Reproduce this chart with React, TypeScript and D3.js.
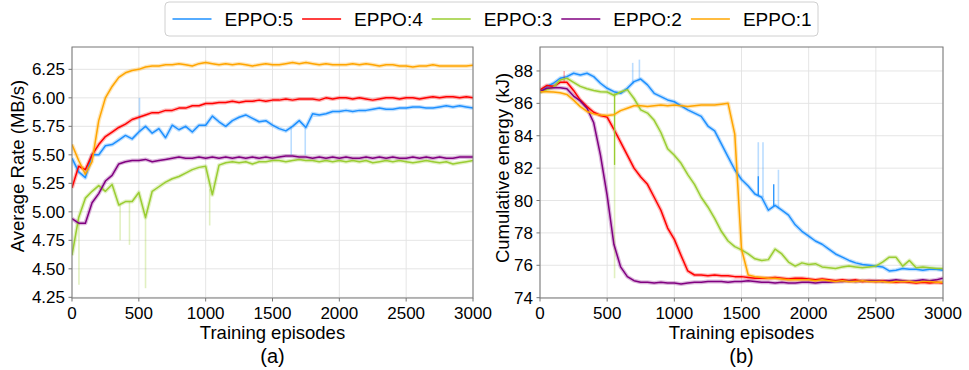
import React from "react";
import * as d3 from "d3";

const episodes = d3.range(0, 3001, 50);
const seriesNames = ["EPPO:5", "EPPO:4", "EPPO:3", "EPPO:2", "EPPO:1"];
const seriesColors = ["#1e90ff", "#ff0000", "#9acd32", "#800080", "#ffa500"];
const xTicks = [0, 500, 1000, 1500, 2000, 2500, 3000];
const rateTicks = [4.25, 4.5, 4.75, 5.0, 5.25, 5.5, 5.75, 6.0, 6.25];
const energyTicks = [74, 76, 78, 80, 82, 84, 86, 88];

// (a) Average Rate (MB/s), every 50 episodes
const rateE5 = [
  5.47, 5.35, 5.30, 5.50, 5.50, 5.58, 5.59, 5.63, 5.67, 5.64,
  5.70, 5.75, 5.69, 5.73, 5.65, 5.76, 5.72, 5.75, 5.70, 5.76,
  5.76, 5.84, 5.79, 5.75, 5.80, 5.83, 5.85, 5.82, 5.79, 5.80,
  5.76, 5.73, 5.71, 5.75, 5.80, 5.74, 5.86, 5.85, 5.86, 5.88,
  5.88, 5.89, 5.88, 5.89, 5.89, 5.90, 5.91, 5.90, 5.90, 5.91,
  5.91, 5.92, 5.92, 5.91, 5.91, 5.92, 5.93, 5.92, 5.93, 5.92,
  5.91,
];
const rateE4 = [
  5.21, 5.40, 5.37, 5.50, 5.59, 5.66, 5.70, 5.74, 5.77, 5.81,
  5.83, 5.85, 5.87, 5.87, 5.89, 5.89, 5.91, 5.91, 5.93, 5.93,
  5.95, 5.95, 5.96, 5.96, 5.97, 5.96, 5.97, 5.97, 5.98, 5.97,
  5.98, 5.98, 5.99, 5.98, 5.99, 5.99, 5.99, 5.98, 6.00, 5.99,
  6.00, 6.00, 5.99, 6.00, 5.99, 5.98, 5.99, 6.00, 6.00, 5.99,
  6.00, 6.00, 5.99, 6.00, 6.01, 6.00, 6.01, 6.01, 6.00, 6.01,
  6.00,
];
const rateE3 = [
  4.62, 4.95, 5.12, 5.18, 5.23, 5.18, 5.24, 5.06, 5.09, 5.09,
  5.17, 4.95, 5.18, 5.22, 5.26, 5.29, 5.31, 5.34, 5.37, 5.39,
  5.40, 5.15, 5.41, 5.43, 5.44, 5.43, 5.44, 5.42, 5.44, 5.44,
  5.45, 5.45, 5.44, 5.45, 5.46, 5.45, 5.45, 5.44, 5.45, 5.44,
  5.45, 5.44, 5.45, 5.44, 5.45, 5.43, 5.44, 5.45, 5.44, 5.45,
  5.44, 5.43, 5.44, 5.45, 5.44, 5.43, 5.44, 5.42, 5.43, 5.44,
  5.45,
];
const rateE2 = [
  4.94, 4.90, 4.90, 5.08, 5.16, 5.27, 5.32, 5.42, 5.44, 5.45,
  5.45, 5.46, 5.44, 5.45, 5.46, 5.47, 5.48, 5.47, 5.47, 5.48,
  5.47, 5.48, 5.47, 5.48, 5.47, 5.48, 5.47, 5.48, 5.47, 5.48,
  5.47, 5.48, 5.49, 5.49, 5.48, 5.48, 5.47, 5.48, 5.47, 5.48,
  5.47, 5.48, 5.47, 5.47, 5.48, 5.47, 5.48, 5.47, 5.48, 5.47,
  5.47, 5.48, 5.47, 5.48, 5.47, 5.48, 5.47, 5.47, 5.48, 5.48,
  5.48,
];
const rateE1 = [
  5.59, 5.45, 5.33, 5.44, 5.80, 6.00, 6.10, 6.18, 6.22, 6.24,
  6.25, 6.27, 6.28, 6.28, 6.29, 6.29, 6.30, 6.29, 6.28, 6.30,
  6.31, 6.30, 6.29, 6.30, 6.29, 6.30, 6.29, 6.28, 6.29, 6.30,
  6.29, 6.29, 6.30, 6.31, 6.30, 6.31, 6.30, 6.29, 6.30, 6.29,
  6.29, 6.29, 6.30, 6.29, 6.30, 6.29, 6.28, 6.29, 6.29, 6.28,
  6.28, 6.27, 6.28, 6.28, 6.29, 6.28, 6.28, 6.28, 6.28, 6.28,
  6.285,
];

// (b) Cumulative energy (kJ), every 50 episodes
const energyE5 = [
  86.72, 87.03, 87.24, 87.55, 87.65, 87.86, 87.75, 87.86, 87.65, 87.24,
  86.93, 86.72, 86.62, 86.93, 87.34, 87.50, 87.14, 86.62, 86.42, 86.21,
  86.10, 85.85, 85.60, 85.40, 85.20, 84.60, 84.30, 83.50, 82.70, 81.90,
  81.30, 80.90, 80.40, 80.20, 79.40, 79.70, 79.40, 79.10, 78.50, 78.10,
  77.80, 77.50, 77.30, 77.00, 76.70, 76.50, 76.30, 76.15, 76.05, 76.00,
  75.95, 75.90, 75.65, 75.70, 75.80, 75.75, 75.75, 75.70, 75.75, 75.75,
  75.70,
];
const energyE4 = [
  86.83, 87.10, 87.05, 87.30, 87.30, 86.80, 86.20, 85.80, 85.45, 85.25,
  85.15, 84.40, 83.60, 82.80, 82.00, 81.45, 81.00, 80.20, 79.40, 78.30,
  77.60, 76.60, 75.65, 75.40, 75.40, 75.35, 75.40, 75.35, 75.35, 75.30,
  75.30, 75.25, 75.20, 75.20, 75.20, 75.25, 75.20, 75.15, 75.20, 75.20,
  75.15, 75.10, 75.15, 75.10, 75.05, 75.10, 75.05, 75.10, 75.00, 75.05,
  75.00, 75.05, 75.00, 74.95, 75.00, 74.95, 74.90, 74.95, 74.90, 74.95,
  74.90,
];
const energyE3 = [
  86.70, 86.85, 87.00, 87.45, 87.55, 87.30, 87.05, 86.90, 86.80, 86.72,
  86.70, 86.50, 86.70, 86.85, 86.30, 85.60, 85.40, 84.95, 84.20, 83.20,
  82.80, 82.30, 81.60, 81.00, 80.20, 79.60, 78.90, 78.10, 77.50, 77.15,
  76.95, 76.70, 76.40, 76.30, 76.35, 77.00, 76.70, 76.20, 75.95, 76.15,
  76.05, 76.10, 75.90, 75.85, 75.80, 75.90, 75.95, 75.90, 75.85, 75.90,
  75.95, 76.20, 76.50, 76.50, 75.95, 76.30, 75.85, 75.90, 75.85, 75.80,
  75.80,
];
const energyE2 = [
  86.72, 86.93, 86.97, 86.97, 86.90, 86.45, 86.15, 85.70, 84.80, 82.80,
  80.30, 77.30, 75.90, 75.30, 75.05, 74.95, 74.95, 74.90, 74.95, 74.90,
  74.90, 74.85, 74.90, 74.95, 74.95, 75.00, 75.00, 75.00, 74.95, 75.00,
  75.00, 75.05, 75.00, 74.95, 74.95, 74.90, 74.95, 74.90, 74.90, 74.95,
  74.95, 74.90, 74.95, 74.95, 75.00, 75.00, 75.05, 75.00, 75.05, 75.05,
  75.05, 75.00, 75.05, 75.10, 75.05, 75.00, 75.05, 75.10, 75.05, 75.10,
  75.20,
];
const energyE1 = [
  86.72, 86.72, 86.70, 86.65, 86.55, 86.20, 85.80, 85.50, 85.35, 85.28,
  85.25, 85.30, 85.55, 85.70, 85.85, 85.85, 85.80, 85.85, 85.90, 85.85,
  85.90, 85.85, 85.80, 85.85, 85.90, 85.90, 85.90, 85.95, 86.00, 84.10,
  77.00, 75.40, 75.30, 75.25, 75.20, 75.20, 75.15, 75.10, 75.10, 75.10,
  75.10, 75.05, 75.10, 75.05, 75.00, 75.05, 75.00, 75.00, 75.05, 75.00,
  75.00, 75.00, 74.95, 75.00, 75.00, 75.00, 74.95, 75.00, 75.00, 74.95,
  74.95,
];

// spikes: [series, episode, base value, tip value, faint(1) or solid(0)]
const rateSpikes: [string, number, number, number, number][] = [
  ["EPPO:3", 52, 4.9, 4.36, 1],
  ["EPPO:3", 360, 5.06, 4.75, 1],
  ["EPPO:3", 430, 5.09, 4.71, 1],
  ["EPPO:3", 550, 4.95, 4.33, 1],
  ["EPPO:3", 1030, 5.2, 4.88, 1],
  ["EPPO:5", 505, 5.7, 6.0, 1],
  ["EPPO:5", 1640, 5.75, 5.5, 1],
  ["EPPO:5", 1745, 5.74, 5.5, 1],
];
const energySpikes: [string, number, number, number, number][] = [
  ["EPPO:3", 555, 86.6, 75.2, 1],
  ["EPPO:3", 555, 86.6, 82.2, 0],
  ["EPPO:5", 690, 87.2, 88.5, 1],
  ["EPPO:5", 740, 87.5, 88.7, 1],
  ["EPPO:5", 1625, 80.3, 83.6, 1],
  ["EPPO:5", 1625, 80.3, 81.5, 0],
  ["EPPO:5", 1660, 80.2, 83.6, 1],
  ["EPPO:5", 1740, 79.6, 81.0, 0],
  ["EPPO:5", 1775, 79.5, 81.9, 1],
  ["EPPO:4", 180, 87.3, 88.0, 1],
];

const FONT = "'Liberation Sans', Arial, Helvetica, sans-serif";

type PanelProps = {
  id: string;
  x0: number; x1: number; y0: number; y1: number;
  domain: [number, number];
  ticks: number[];
  fmt: (v: number) => string;
  series: number[][];
  spikes: [string, number, number, number, number][];
  yTitle: string;
  yTitleX: number;
  yTitleY: number;
  label: string;
};

function Panel(p: PanelProps) {
  const x = d3.scaleLinear().domain([0, 3000]).range([p.x0, p.x1]);
  const y = d3.scaleLinear().domain(p.domain).range([p.y1, p.y0]);
  const line = d3
    .line<number>()
    .x((_, i) => x(episodes[i]))
    .y((d) => y(d));
  const cx = (p.x0 + p.x1) / 2;
  return (
    <g>
      <defs>
        <clipPath id={p.id}>
          <rect x={p.x0} y={p.y0} width={p.x1 - p.x0} height={p.y1 - p.y0} />
        </clipPath>
      </defs>
      {xTicks.map((t) => (
        <line key={"gx" + t} x1={x(t)} x2={x(t)} y1={p.y0} y2={p.y1} stroke="#e2e2e2" strokeWidth={0.9} />
      ))}
      {p.ticks.map((t) => (
        <line key={"gy" + t} x1={p.x0} x2={p.x1} y1={y(t)} y2={y(t)} stroke="#e2e2e2" strokeWidth={0.9} />
      ))}
      <g clipPath={`url(#${p.id})`}>
        {p.series.map((s, i) => (
          <path key={"b" + i} d={line(s) || ""} fill="none" stroke={seriesColors[i]} strokeOpacity={0.28} strokeWidth={4} strokeLinejoin="round" />
        ))}
        {p.series.map((s, i) => (
          <g key={"s" + i}>
            {p.spikes
              .filter((sp) => sp[0] === seriesNames[i])
              .map((sp, j) => (
                <line
                  key={j}
                  x1={x(sp[1])}
                  x2={x(sp[1])}
                  y1={y(sp[2])}
                  y2={y(sp[3])}
                  stroke={seriesColors[i]}
                  strokeOpacity={sp[4] ? 0.3 : 1}
                  strokeWidth={sp[4] ? 1.6 : 1.3}
                />
              ))}
            <path d={line(s) || ""} fill="none" stroke={seriesColors[i]} strokeWidth={1.5} strokeLinejoin="round" />
          </g>
        ))}
      </g>
      <rect x={p.x0} y={p.y0} width={p.x1 - p.x0} height={p.y1 - p.y0} fill="none" stroke="#777" strokeWidth={1} />
      {xTicks.map((t) => (
        <g key={"tx" + t}>
          <line x1={x(t)} x2={x(t)} y1={p.y1} y2={p.y1 + 3.5} stroke="#777" />
          <text x={x(t)} y={p.y1 + 21} textAnchor="middle" fontSize={17} fontFamily={FONT} fill="#000">
            {t}
          </text>
        </g>
      ))}
      {p.ticks.map((t) => (
        <g key={"ty" + t}>
          <line x1={p.x0 - 3.5} x2={p.x0} y1={y(t)} y2={y(t)} stroke="#777" />
          <text x={p.x0 - 7} y={y(t)} dy="0.36em" textAnchor="end" fontSize={17} fontFamily={FONT} fill="#000">
            {p.fmt(t)}
          </text>
        </g>
      ))}
      <text x={cx} y={339} textAnchor="middle" fontSize={18.5} fontFamily={FONT} fill="#000">
        Training episodes
      </text>
      <text x={cx} y={363} textAnchor="middle" fontSize={20} fontFamily={FONT} fill="#000">
        {p.label}
      </text>
      <text
        transform={`translate(${p.yTitleX},${p.yTitleY}) rotate(-90)`}
        textAnchor="middle"
        fontSize={18.5}
        fontFamily={FONT}
        fill="#000"
      >
        {p.yTitle}
      </text>
    </g>
  );
}

function Legend() {
  const left = 165;
  const right = 818;
  return (
    <g>
      <rect x={left} y={2} width={right - left} height={34} rx={4} fill="#fff" stroke="#d0d0d0" strokeWidth={1} />
      {seriesNames.map((n, i) => {
        const sx = 172.5 + i * 129.6;
        return (
          <g key={n}>
            <line x1={sx} x2={sx + 39} y1={19} y2={19} stroke={seriesColors[i]} strokeWidth={2} strokeOpacity={0.75} />
            <text x={sx + 52} y={19} dy="0.36em" fontSize={19} fontFamily={FONT} fill="#000">
              {n}
            </text>
          </g>
        );
      })}
    </g>
  );
}

export default function App() {
  return (
    <svg
      width={969}
      height={370}
      viewBox="0 0 969 370"
      style={{ position: "absolute", left: 0, top: 0, background: "#fff" }}
    >
      <rect width={969} height={370} fill="#fff" />
      <Panel
        id="clipA"
        x0={72}
        x1={473}
        y0={47}
        y1={298}
        domain={[4.244, 6.446]}
        ticks={rateTicks}
        fmt={(v) => v.toFixed(2)}
        series={[rateE5, rateE4, rateE3, rateE2, rateE1]}
        spikes={rateSpikes}
        yTitle="Average Rate (MB/s)"
        yTitleX={24}
        yTitleY={166}
        label="(a)"
      />
      <Panel
        id="clipB"
        x0={540}
        x1={943}
        y0={47}
        y1={298}
        domain={[73.98, 89.48]}
        ticks={energyTicks}
        fmt={(v) => String(v)}
        series={[energyE5, energyE4, energyE3, energyE2, energyE1]}
        spikes={energySpikes}
        yTitle="Cumulative energy (kJ)"
        yTitleX={509}
        yTitleY={168}
        label="(b)"
      />
      <Legend />
    </svg>
  );
}
